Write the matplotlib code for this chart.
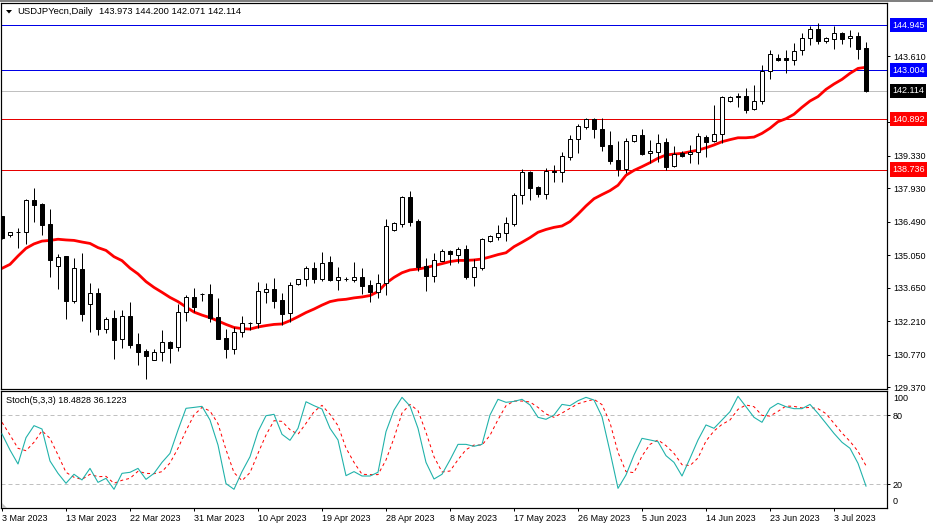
# USDJPY daily candles with moving average and stochastic panel
import matplotlib
matplotlib.use("Agg")
from matplotlib import pyplot as plt
from matplotlib.patches import Polygon, Rectangle

W, H = 933, 528

opens = [136.74, 135.92, 136.04, 136.04, 137.41, 137.24, 136.38, 134.58, 135.00, 133.10,
         134.46, 132.94, 133.42, 131.87, 132.34, 131.44, 132.43, 131.22, 130.92, 130.57,
         130.88, 131.31, 131.10, 132.60, 133.24, 133.38, 133.37, 132.38, 131.48, 131.01,
         131.74, 132.15, 132.13, 133.49, 133.62, 133.11, 132.56, 133.83, 134.02, 134.49,
         134.05, 134.75, 134.00, 134.03, 134.00, 134.10, 133.76, 133.49, 133.85, 136.15,
         136.41, 137.54, 136.51, 134.59, 134.17, 134.82, 135.23, 135.08, 135.31, 134.13,
         134.52, 135.65, 135.85, 136.02, 136.41, 137.63, 138.61, 137.97, 137.70, 138.66,
         138.61, 139.29, 140.03, 140.55, 140.89, 140.46, 139.78, 139.13, 138.74, 139.95,
         140.20, 139.43, 139.50, 139.90, 138.87, 139.43, 139.39, 139.47, 140.12, 139.95,
         140.25, 141.67, 141.88, 141.88, 141.32, 141.67, 142.98, 143.51, 143.51, 143.43,
         143.86, 144.37, 144.76, 144.27, 144.36, 144.60, 144.37, 144.47, 143.973]
highs = [136.76, 136.05, 136.21, 137.45, 137.93, 137.28, 137.03, 135.10, 135.02, 134.92,
         135.13, 133.85, 133.63, 132.41, 132.70, 132.70, 133.03, 131.70, 131.01, 131.01,
         131.84, 131.38, 132.96, 133.34, 133.63, 133.42, 133.80, 133.20, 131.87, 131.95,
         132.44, 132.20, 133.90, 133.85, 134.06, 133.42, 133.89, 134.02, 134.60, 134.75,
         135.19, 135.02, 134.53, 134.13, 134.75, 134.49, 133.99, 134.25, 136.61, 136.47,
         137.60, 137.81, 136.61, 134.93, 135.13, 135.31, 135.28, 135.42, 135.48, 134.88,
         135.78, 135.91, 136.35, 136.68, 137.71, 138.74, 138.67, 138.03, 138.79, 138.93,
         139.47, 140.21, 140.71, 140.95, 140.95, 140.94, 140.39, 139.96, 140.08, 140.23,
         140.48, 140.00, 140.25, 140.08, 139.75, 139.53, 139.79, 140.29, 140.22, 141.51,
         141.90, 141.90, 142.01, 142.22, 142.37, 143.21, 143.87, 143.70, 143.87, 144.19,
         144.59, 144.92, 145.02, 144.42, 144.92, 144.65, 144.73, 144.63, 144.200]
lows = [135.74, 135.85, 135.38, 135.53, 136.50, 135.92, 134.13, 133.59, 132.33, 132.99,
        132.24, 131.77, 131.61, 131.73, 130.58, 131.08, 131.05, 130.35, 129.72, 130.55,
        130.52, 130.44, 130.95, 132.24, 132.63, 133.10, 132.20, 131.44, 130.65, 130.81,
        131.55, 131.84, 131.91, 133.01, 132.77, 132.05, 132.20, 133.77, 133.75, 133.87,
        133.96, 133.96, 133.56, 133.95, 133.92, 133.39, 133.06, 133.23, 133.36, 136.11,
        136.28, 136.31, 134.39, 133.52, 133.90, 134.79, 134.65, 134.73, 134.05, 133.75,
        134.42, 135.62, 135.71, 135.68, 136.31, 137.25, 137.43, 137.55, 137.48, 138.20,
        138.20, 139.14, 139.46, 140.49, 140.10, 139.55, 138.97, 138.47, 138.60, 139.92,
        139.36, 139.03, 139.04, 138.72, 138.86, 139.29, 139.03, 138.97, 139.29, 139.93,
        139.86, 141.65, 141.44, 141.18, 141.29, 141.57, 142.64, 143.40, 142.90, 143.24,
        143.66, 144.10, 144.13, 144.16, 143.91, 144.13, 144.01, 143.48, 142.071]
closes = [135.78, 136.04, 136.05, 137.41, 137.23, 136.37, 134.86, 134.99, 133.10, 134.49,
          132.53, 133.42, 131.90, 132.30, 131.42, 132.43, 131.21, 130.91, 130.74, 130.88,
          131.31, 131.08, 132.60, 133.24, 132.84, 133.39, 132.36, 131.47, 131.01, 131.74,
          132.16, 132.16, 133.50, 133.62, 133.10, 132.51, 133.76, 134.02, 134.49, 134.05,
          134.73, 133.99, 134.13, 134.02, 134.10, 133.75, 133.49, 133.85, 136.29, 136.42,
          137.54, 136.49, 134.56, 134.17, 134.83, 135.22, 135.10, 135.31, 134.12, 134.53,
          135.74, 135.86, 136.02, 136.42, 137.63, 138.61, 137.96, 137.70, 138.67, 138.64,
          139.30, 140.03, 140.59, 140.89, 140.46, 139.76, 139.12, 138.74, 139.95, 140.20,
          139.42, 139.52, 139.89, 138.86, 139.39, 139.33, 139.47, 140.16, 139.93, 140.25,
          141.84, 141.84, 141.84, 141.31, 141.67, 142.98, 143.69, 143.46, 143.43, 143.84,
          144.37, 144.76, 144.27, 144.37, 144.59, 144.36, 144.47, 143.93, 142.114]
ma_line = [134.49, 134.66, 135.02, 135.35, 135.54, 135.66, 135.69, 135.74, 135.71, 135.69,
           135.62, 135.56, 135.38, 135.26, 134.99, 134.82, 134.50, 134.25, 133.92, 133.67,
           133.46, 133.24, 133.06, 132.83, 132.61, 132.48, 132.37, 132.23, 132.08, 131.95,
           131.90, 131.88, 131.97, 132.03, 132.08, 132.10, 132.24, 132.41, 132.59, 132.74,
           132.91, 133.06, 133.13, 133.16, 133.22, 133.26, 133.32, 133.49, 133.85, 134.10,
           134.30, 134.42, 134.46, 134.52, 134.61, 134.69, 134.78, 134.83, 134.83, 134.85,
           134.89, 134.98, 135.08, 135.16, 135.42, 135.61, 135.81, 136.04, 136.16, 136.25,
           136.31, 136.50, 136.82, 137.17, 137.48, 137.66, 137.83, 138.06, 138.49, 138.70,
           138.86, 139.03, 139.22, 139.36, 139.40, 139.43, 139.50, 139.57, 139.67, 139.79,
           139.93, 140.02, 140.10, 140.10, 140.13, 140.29, 140.51, 140.79, 140.92, 141.11,
           141.41, 141.68, 141.87, 142.18, 142.41, 142.61, 142.87, 143.08, 143.13]
stoch_main = [63.6, 49.7, 37.6, 60.4, 70.8, 67.9, 40.2, 29.5, 20.9, 28.7,
              23.8, 33.8, 21.7, 25.2, 15.7, 29.5, 30.4, 33.8, 24.3, 29.5,
              39.0, 46.8, 67.0, 85.8, 86.6, 87.5, 75.7, 54.0, 20.6, 15.7,
              31.0, 43.9, 65.6, 79.4, 80.6, 63.3, 58.1, 68.5, 91.5, 88.1,
              85.2, 68.5, 58.4, 27.5, 31.0, 27.2, 27.2, 30.4, 65.6, 84.3,
              95.3, 87.8, 68.5, 39.0, 24.6, 28.7, 41.1, 54.6, 54.6, 52.9,
              54.6, 80.0, 93.6, 91.0, 91.8, 93.6, 88.7, 78.0, 76.3, 80.0,
              89.2, 88.1, 92.4, 95.3, 93.0, 78.6, 48.3, 16.5, 28.1, 45.4,
              59.8, 58.4, 56.9, 44.8, 39.0, 27.2, 42.5, 58.4, 71.4, 68.5,
              75.7, 82.9, 96.2, 87.2, 78.0, 73.7, 85.8, 90.1, 87.2, 85.5,
              85.5, 89.2, 81.4, 72.8, 64.1, 56.4, 51.2, 38.2, 18.48]
stoch_signal = [73.7, 62.7, 51.2, 49.1, 56.4, 66.4, 59.8, 45.4, 30.4, 26.1,
                24.3, 28.7, 26.6, 26.9, 20.9, 23.5, 25.2, 31.3, 29.5, 29.2,
                31.0, 38.5, 51.2, 66.4, 80.0, 86.6, 83.5, 72.5, 50.0, 30.1,
                23.2, 30.1, 46.8, 62.7, 75.1, 74.5, 67.3, 63.3, 72.8, 82.9,
                88.4, 80.6, 70.8, 51.4, 39.0, 28.7, 28.4, 28.4, 41.1, 60.1,
                81.7, 89.2, 83.8, 65.0, 43.9, 30.7, 31.5, 41.3, 50.0, 54.0,
                54.0, 62.4, 76.0, 88.1, 92.1, 92.1, 91.3, 86.6, 80.9, 78.0,
                81.7, 85.8, 89.8, 91.8, 93.6, 89.0, 73.4, 47.7, 31.0, 30.1,
                44.5, 54.6, 58.4, 53.5, 46.8, 37.0, 36.2, 42.8, 57.5, 66.2,
                71.9, 75.7, 84.9, 88.7, 87.2, 79.7, 79.1, 83.2, 87.8, 87.5,
                86.1, 86.6, 85.5, 81.2, 72.8, 64.4, 57.2, 48.6, 36.12]

price_ticks = [143.61, 140.77, 139.33, 137.93, 136.49, 135.05, 133.65, 132.21, 130.77, 129.37]
levels_blue = [144.945, 143.004]
levels_red = [140.892, 138.736]
last_price = 142.114
date_ticks = list(range(0, 109, 8))
date_labels = ["3 Mar 2023", "13 Mar 2023", "22 Mar 2023", "31 Mar 2023", "10 Apr 2023",
               "19 Apr 2023", "28 Apr 2023", "8 May 2023", "17 May 2023", "26 May 2023",
               "5 Jun 2023", "14 Jun 2023", "23 Jun 2023", "3 Jul 2023"]

plt.rcParams["font.family"] = "Liberation Sans"
FS = 6.5
LW = 0.72


def panel(fig, left, top, right, bottom):
    ax = fig.add_axes([left / W, 1 - bottom / H, (right - left) / W, (bottom - top) / H])
    ax.set_xlim(-0.125, 110.625)
    for side in ["left", "right", "bottom", "top"]:
        ax.spines[side].set_linewidth(LW * 1.2)
    ax.yaxis.tick_right()
    ax.tick_params(axis="both", length=2.2, width=LW, labelsize=FS, pad=2.0, labelcolor="black")
    return ax


def price_box(ax, price, text, color):
    ax.text(1.0057, price, text, color="white", fontsize=FS, va="center", ha="left",
            transform=ax.get_yaxis_transform(), zorder=10,
            bbox=dict(boxstyle="square,pad=0.28", fc=color, ec=color, lw=0))


fig = plt.figure(figsize=(W / 100, H / 100), dpi=100)

ax = panel(fig, 1, 3, 887, 389)
ax.set_ylim(129.305, 145.891)
ax.set_yticks(price_ticks)
ax.set_yticklabels(["%.3f" % p for p in price_ticks])
ax.set_xticks([])

for level in levels_blue:
    ax.axhline(level, color="#0000e6", lw=LW, zorder=1)
for level in levels_red:
    ax.axhline(level, color="#e60000", lw=LW, zorder=1)
ax.axhline(last_price, color="#c0c0c0", lw=LW, zorder=1)

ax.plot(range(len(ma_line)), ma_line, color="#ff0000", lw=2.0, zorder=2)

for i in range(len(opens)):
    o, h, l, c = opens[i], highs[i], lows[i], closes[i]
    ax.vlines(i, l, h, color="black", lw=LW, zorder=3)
    up = c >= o
    ax.bar(i, abs(c - o), bottom=min(o, c), width=0.5, zorder=4, linewidth=LW,
           facecolor="white" if up else "black", edgecolor="black")

for p, col in [(144.945, "#0000ff"), (143.004, "#0000ff"), (142.114, "black"),
               (140.892, "#ff0000"), (138.736, "#ff0000")]:
    price_box(ax, p, "%.3f" % p, col)

ax2 = panel(fig, 1, 391, 887, 508)
ax2.set_ylim(-0.5, 100.8)
ax2.set_yticks([20, 80])
ax2.set_yticklabels(["20", "80"])
ax2.axhline(80, color="#c0c0c0", lw=LW, ls=(0, (4, 3)), zorder=1)
ax2.axhline(20, color="#c0c0c0", lw=LW, ls=(0, (4, 3)), zorder=1)
ax2.plot(range(len(stoch_signal)), stoch_signal, color="#ff0000", lw=LW, ls=(0, (3, 3)), zorder=2)
ax2.plot(range(len(stoch_main)), stoch_main, color="#20b2aa", lw=LW * 1.1, zorder=3)
ax2.set_xticks(date_ticks)
ax2.set_xticklabels(date_labels, ha="left")
for side_y, label in [(94.4, "100"), (5.0, "0")]:
    ax2.text(1.0069, side_y, label, fontsize=FS, va="center", ha="left",
             transform=ax2.get_yaxis_transform())

fig.text(17 / W, 1 - 11.5 / H, "USDJPYecn,Daily", fontsize=6.8, va="center", ha="left", color="black")
fig.text(99 / W, 1 - 11.5 / H, "143.973 144.200 142.071 142.114", fontsize=6.7, va="center", ha="left", color="black")
fig.text(6 / W, 1 - 400.5 / H, "Stoch(5,3,3) 18.4828 36.1223",
         fontsize=6.6, va="center", ha="left", color="black")

# small decorations of the terminal window
fig.add_artist(Rectangle((0, 1 - 1.5 / H), 1, 1.5 / H, transform=fig.transFigure,
                         fc="#808080", ec="none"))
fig.add_artist(Polygon([(6 / W, 1 - 10 / H), (12 / W, 1 - 10 / H), (9 / W, 1 - 13.5 / H)],
                       transform=fig.transFigure, fc="black", ec="none"))
fig.add_artist(Polygon([(2 / W, 1 - 503 / H), (2 / W, 1 - 507.5 / H), (7 / W, 1 - 507.5 / H)],
                       transform=fig.transFigure, fc="#c0c0c0", ec="none"))

fig.savefig("out.png", dpi=100)
